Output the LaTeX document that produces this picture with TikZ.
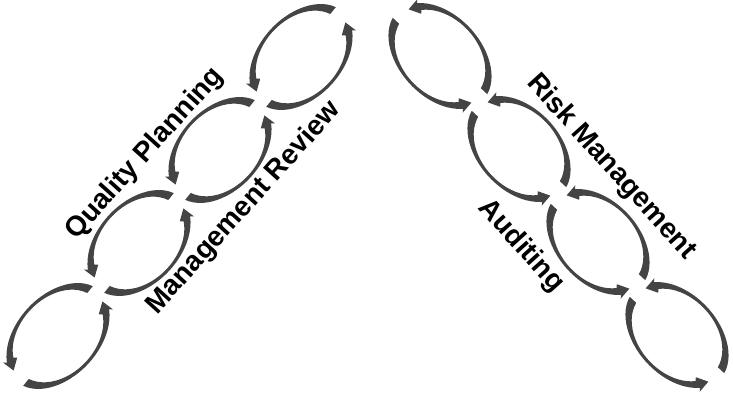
\documentclass[tikz,border=0pt]{standalone}
\usepackage{fontspec}
\setmainfont{Liberation Sans}
\definecolor{ringcol}{RGB}{68,68,68}
\newcommand\ao{61.5}\newcommand\bo{41}
\newcommand\ai{52.5}\newcommand\bi{38}
\newcommand\am{57}\newcommand\bm{39.5}
\newcommand\hh{7.5}
\newcommand\arcarrow[2]{%
  \pgfmathsetmacro\tb{#2-15}%
  \fill[ringcol] ({\ao*cos(#1)},{\bo*sin(#1)})
    arc[start angle=#1, end angle=\tb, x radius=\ao, y radius=\bo]
    -- ({(\am+\hh)*cos(\tb)},{(\bm+\hh)*sin(\tb)})
    -- ({\am*cos(#2)},{\bm*sin(#2)})
    -- ({(\am-\hh)*cos(\tb)},{(\bm-\hh)*sin(\tb)})
    -- ({\ai*cos(\tb)},{\bi*sin(\tb)})
    arc[start angle=\tb, end angle=#1, x radius=\ai, y radius=\bi] -- cycle;}
\newcommand\loopring[3]{%
  \begin{scope}[shift={(#1,#2)},rotate=#3]
    \arcarrow{12}{167}
    \arcarrow{192}{347}
  \end{scope}}
\tikzset{lbl/.style={font=\fontsize{28}{30}\selectfont\bfseries, inner sep=0pt, text=black}}
\begin{document}
\begin{tikzpicture}[x=1pt,y=1pt]
\useasboundingbox (0,0) rectangle (733,393);
% left chain
\loopring{58}{57}{47}
\loopring{139}{150}{47}
\loopring{220}{243}{47}
\loopring{301}{336}{47}
% right chain
\loopring{440}{337}{-47}
\loopring{519}{244}{-47}
\loopring{598}{151}{-47}
\loopring{677}{58}{-47}
% labels
\node[lbl, rotate=48] (qp) at (145,239) {Quality Planning};
\node[lbl, rotate=48] (mr) at (244,185) {Management Review};
\node[lbl, rotate=-48] (rm) at (611,226) {Risk Management};
\node[lbl, rotate=-48] (au) at (521,147) {Auditing};
\end{tikzpicture}
\end{document}
